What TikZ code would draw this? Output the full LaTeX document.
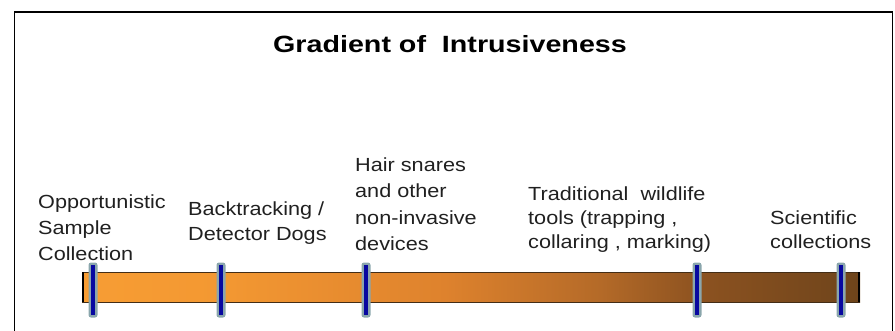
\documentclass[tikz,border=0pt]{standalone}
\usepackage{fontspec}
\setmainfont{Liberation Sans}
\newfontfamily\labfont[FakeStretch=1.14]{Liberation Sans}
\newfontfamily\titfont[FakeStretch=1.22]{Liberation Sans}
\definecolor{txt}{HTML}{202020}
\definecolor{oA}{HTML}{F79D34}
\definecolor{oB}{HTML}{F39832}
\definecolor{oC}{HTML}{DE822D}
\definecolor{oD}{HTML}{B46A28}
\definecolor{oE}{HTML}{8C5220}
\definecolor{oF}{HTML}{6E441B}
\definecolor{glow}{HTML}{8AA6AC}
\definecolor{tickblue}{HTML}{0808A0}
\tikzset{
  lab/.style={anchor=base west, inner sep=0pt, align=left, text=txt},
  glowbar/.style={fill=glow, rounded corners=2.5pt},
  tickline/.style={draw=tickblue, line width=3.5pt, line cap=butt},
}
\begin{document}
\begin{tikzpicture}[x=1pt,y=-1pt]
\useasboundingbox (0,0) rectangle (895,330);
% frame
\draw[line width=1.6pt, black] (14.5,331) -- (14.5,12) -- (892.5,12) -- (892.5,331);
% title
\node[anchor=base, inner sep=0pt, text=black, font=\titfont\bfseries\fontsize{23.5}{28}\selectfont] (title) at (450,52) {Gradient of\ \ Intrusiveness};
% bar
\coordinate (barL) at (82,272);
\coordinate (barR) at (860,302);
\shade[left color=oA, right color=oB] (82,272) rectangle (220.5,302);
\shade[left color=oB, right color=oC] (220,272) rectangle (445.5,302);
\shade[left color=oC, right color=oD] (445,272) rectangle (600.5,302);
\shade[left color=oD, right color=oE] (600,272) rectangle (700.5,302);
\shade[left color=oE, right color=oF] (700,272) rectangle (860,302);
\draw[line width=0.8pt, black!65!brown] (82,272) -- (860,272) (82,302) -- (860,302);
\draw[line width=2pt, black] (83,272) -- (83,302);
\draw[line width=2pt, black] (859,272) -- (859,302);
% ticks
\foreach \x/\n in {93/t1,221/t2,366/t3,697/t4,841/t5}{
  \fill[glowbar] (\x-4.5,262.5) rectangle (\x+4.5,317.5);
  \coordinate (\n top) at (\x,265);
  \coordinate (\n bot) at (\x,315);
  \draw[tickline] (\n top) -- (\n bot);
}
% labels (anchor at baseline of last line)
\node[lab, font=\labfont\fontsize{19}{26}\selectfont] (l1) at (38,260) {Opportunistic\\Sample\\Collection};
\node[lab, font=\labfont\fontsize{19}{25}\selectfont] (l2) at (188,240) {Backtracking /\\Detector Dogs};
\node[lab, font=\labfont\fontsize{19}{26.3}\selectfont] (l3) at (355,250.5) {Hair snares\\and other\\non-invasive\\devices};
\node[lab, font=\labfont\fontsize{19}{24}\selectfont] (l4) at (528,248) {Traditional\ \ wildlife\\tools (trapping ,\\collaring , marking)};
\node[lab, font=\labfont\fontsize{19}{23.5}\selectfont] (l5) at (770,248) {Scientific\\collections};
\end{tikzpicture}
\end{document}
